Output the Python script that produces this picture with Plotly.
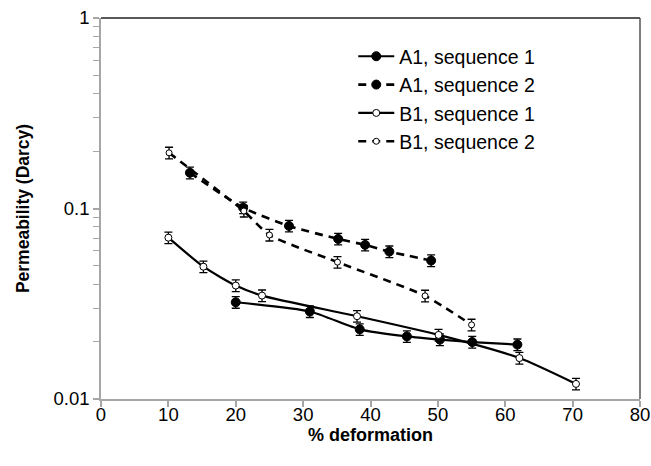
import plotly.graph_objects as go

# A1, sequence 1
a1s1_x = [20, 31, 38.4, 45.4, 50.3, 55.1, 61.8]
a1s1_y = [0.0322, 0.0288, 0.0232, 0.0213, 0.0205, 0.0199, 0.0193]
# A1, sequence 2
a1s2_x = [13.2, 21.1, 27.9, 35.2, 39.2, 42.8, 49.0]
a1s2_y = [0.154, 0.101, 0.081, 0.0692, 0.0644, 0.0594, 0.0533]
# B1, sequence 1
b1s1_x = [10.0, 15.2, 20.0, 23.9, 38.0, 50.1, 62.1, 70.5]
b1s1_y = [0.0703, 0.0495, 0.0394, 0.0349, 0.0272, 0.0217, 0.0164, 0.0120]
# B1, sequence 2
b1s2_x = [10.1, 21.2, 25.0, 35.1, 48.1, 55.0]
b1s2_y = [0.196, 0.097, 0.0726, 0.0523, 0.0348, 0.0245]

err_pct = 7

x_ticks = [0, 10, 20, 30, 40, 50, 60, 70, 80]
y_ticks = [0.01, 0.1, 1]
y_minor = [k * 0.01 for k in range(2, 10)] + [k * 0.1 for k in range(2, 10)]

FONT = "Liberation Sans, Arial, sans-serif"

def series(x, y, name, filled, dash, size):
    return go.Scatter(
        x=x, y=y, name=name, mode="lines+markers",
        line=dict(color="black", width=2.2 if dash == "solid" else 2.6,
                  dash=dash if dash == "solid" else "8px,6px", shape="spline", smoothing=0.6),
        marker=dict(symbol="circle", size=size,
                    color="black" if filled else "white",
                    line=dict(color="black", width=1)),
        error_y=dict(type="percent", value=err_pct, color="black",
                     thickness=1.3, width=4),
    )

fig = go.Figure()
fig.add_trace(series(a1s1_x, a1s1_y, "A1, sequence 1", True, "solid", 9))
fig.add_trace(series(a1s2_x, a1s2_y, "A1, sequence 2", True, "dash", 9))
fig.add_trace(series(b1s1_x, b1s1_y, "B1, sequence 1", False, "solid", 7))
fig.add_trace(series(b1s2_x, b1s2_y, "B1, sequence 2", False, "dash", 6))

axis_gray = "#a6a6a6"
fig.update_layout(
    width=651, height=466,
    margin=dict(l=101, r=11, t=18, b=67),
    paper_bgcolor="white", plot_bgcolor="white",
    font=dict(family=FONT, size=18, color="black"),
    showlegend=True,
    legend=dict(x=0.468, y=0.95, xanchor="left", yanchor="top",
                bgcolor="rgba(0,0,0,0)", font=dict(size=19.5),
                tracegroupgap=0, itemwidth=36),
    xaxis=dict(
        range=[0, 80], tickmode="array", tickvals=x_ticks,
        showgrid=False, zeroline=False, automargin=False,
        showline=True, linecolor=axis_gray, linewidth=1.5,
        ticks="outside", ticklen=6, tickcolor=axis_gray, tickwidth=1.5,
        tickfont=dict(size=18.5), ticklabeloverflow="allow",
        ticklabelstandoff=-8,
    ),
    yaxis=dict(
        type="log", range=[-2, 0], tickmode="array", tickvals=y_ticks,
        ticktext=["0.01", "0.1", "1"],
        showgrid=False, zeroline=False, automargin=False,
        showline=True, linecolor=axis_gray, linewidth=1.5,
        ticks="outside", ticklen=6, tickcolor=axis_gray, tickwidth=1.5,
        tickfont=dict(size=18.5), ticklabeloverflow="allow",
        minor=dict(tickmode="array", tickvals=y_minor, ticks="outside",
                   ticklen=6, tickcolor=axis_gray, tickwidth=1.2, showgrid=False),
        title=dict(text="<b>Permeability (Darcy)</b>", font=dict(size=17.5), standoff=19),
    ),
    annotations=[
        dict(text="<b>% deformation</b>", xref="paper", yref="paper", x=0.5, y=0,
             xanchor="center", yanchor="top", yshift=-24, showarrow=False,
             font=dict(size=18)),
    ],
    shapes=[
        dict(type="line", xref="paper", yref="paper", x0=0, x1=1, y0=1, y1=1,
             line=dict(color="#222222", width=1.5)),
        dict(type="line", xref="paper", yref="paper", x0=1, x1=1, y0=0, y1=1,
             line=dict(color="#555555", width=1.5)),
    ],
)

fig.write_html("out.html", config={"displayModeBar": False},
               post_script="document.body.style.margin='0';document.body.style.overflow='hidden';")
